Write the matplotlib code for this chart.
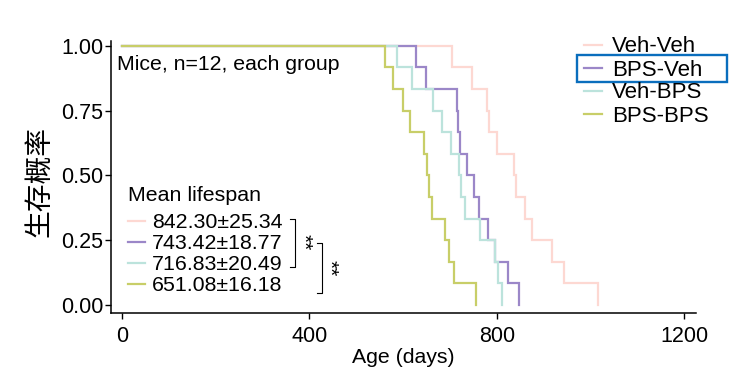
import matplotlib
matplotlib.use("Agg")
import matplotlib.pyplot as plt
from matplotlib.lines import Line2D
from matplotlib.patches import Rectangle

plt.rcParams['font.family'] = ['Liberation Sans', 'Noto Sans CJK SC', 'DejaVu Sans']

groups = ["Veh-Veh", "BPS-Veh", "Veh-BPS", "BPS-BPS"]
colors = ["#FDD8D2", "#9B87C8", "#BCE3DC", "#C8CE68"]
mean_labels = ["842.30±25.34", "743.42±18.77", "716.83±20.49", "651.08±16.18"]
n_mice = 12

death_veh_veh = [705, 746, 779, 784, 801, 837, 840, 860, 876, 917, 943, 1016]
death_bps_veh = [627, 648, 714, 717, 721, 737, 751, 762, 781, 796, 823, 848]
death_veh_bps = [587, 618, 664, 683, 703, 720, 723, 732, 764, 796, 803, 812]
death_bps_bps = [562, 579, 600, 614, 644, 650, 656, 661, 690, 698, 708, 755]
deaths = [death_veh_veh, death_bps_veh, death_veh_bps, death_bps_bps]

x_ticks = [0, 400, 800, 1200]
y_ticks = [0.0, 0.25, 0.5, 0.75, 1.0]
y_ticklabels = ["0.00", "0.25", "0.50", "0.75", "1.00"]

W, H = 736, 380
fig = plt.figure(figsize=(W / 100, H / 100), dpi=100)


def fx(px):
    return px / W


def fy(py):
    return 1 - py / H


ax_l, ax_r, ax_t, ax_b = 110.7, 696.0, 41.0, 313.3
ax = fig.add_axes([fx(ax_l), fy(ax_b), fx(ax_r - ax_l), (ax_b - ax_t) / H])

for times, col in zip(deaths, colors):
    xs = [0] + list(times)
    ys = [1.0] + [1.0 - (k + 1) / n_mice for k in range(len(times))]
    ax.step(xs, ys, where='post', color=col, lw=1.6, solid_joinstyle='miter')

ax.set_xlim(-24, 1225)
ax.set_ylim(-0.032, 1.018)
ax.set_xticks(x_ticks)
ax.set_xticklabels([str(v) for v in x_ticks])
ax.set_yticks(y_ticks)
ax.set_yticklabels(y_ticklabels)
for s in ['top', 'right']:
    ax.spines[s].set_visible(False)
for s in ['left', 'bottom']:
    ax.spines[s].set_linewidth(1.1)
ax.tick_params(axis='x', length=4.5, width=1.0, pad=4.5, labelsize=15.5)
ax.tick_params(axis='y', length=4.0, width=1.0, pad=1.5, labelsize=15.5)

ax.set_xlabel("Age (days)", fontsize=15.3, labelpad=1)

fig.text(fx(39), fy(182), "生存概率", rotation=90, fontsize=20,
         family=['Noto Sans CJK SC', 'DejaVu Sans'], ha='center', va='center')

fig.text(fx(117), fy(64), "Mice, n=12, each group", fontsize=15.3,
         ha='left', va='center')

# group legend (top right)
handles = [Line2D([0], [0], color=c, lw=1.6) for c in colors]
leg1 = fig.legend(handles, groups, loc='upper left',
                  bbox_to_anchor=(fx(584), fy(36.5)), frameon=False,
                  fontsize=16, handlelength=0.82, handletextpad=0.45,
                  labelspacing=0.09, borderpad=0, borderaxespad=0)

fig.patches.append(Rectangle((fx(576.7), fy(82.3)), fx(150), 27.3 / H,
                             transform=fig.transFigure, fill=False,
                             edgecolor="#0A6EBD", lw=1.7))

# mean lifespan legend
fig.text(fx(128.5), fy(195), "Mean lifespan", fontsize=15.4,
         ha='left', va='center')
leg2 = fig.legend(handles, mean_labels, loc='upper left',
                  bbox_to_anchor=(fx(128), fy(213.5)), frameon=False,
                  fontsize=15.4, handlelength=0.8,
                  handletextpad=0.32, labelspacing=0.09, borderpad=0,
                  borderaxespad=0)

# significance brackets
def bracket(x, y0, y1, star_x, star_y):
    fig.add_artist(Line2D([fx(x - 5), fx(x), fx(x), fx(x - 5)],
                          [fy(y0), fy(y0), fy(y1), fy(y1)],
                          transform=fig.transFigure, color='black', lw=0.8))
    fig.text(fx(star_x), fy(star_y), "**", rotation=-90, fontsize=15,
             ha='center', va='center')

bracket(295, 219, 267, 303, 242)
bracket(321.7, 243.3, 293.3, 329.5, 268)

fig.savefig("out.png", dpi=100)
